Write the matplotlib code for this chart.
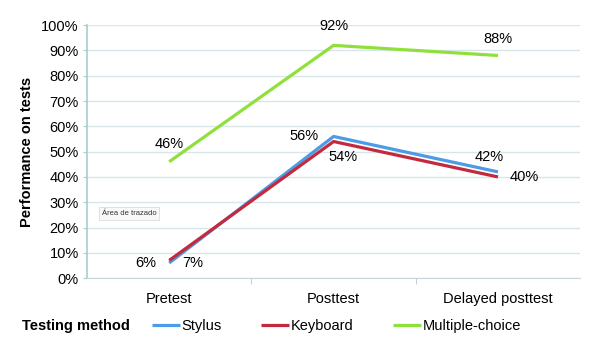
import matplotlib.pyplot as plt

plt.rcParams['font.family'] = ['Liberation Sans', 'DejaVu Sans']

phases = ['Pretest', 'Posttest', 'Delayed posttest']
stylus = [6, 56, 42]
keyboard = [7, 54, 40]
multiple_choice = [46, 92, 88]

# label offsets in points (dx, dy) for each series
stylus_offsets = [(-17, 0), (-21, 0), (-6, 11)]
keyboard_offsets = [(17, -2), (7, -11), (19, 0)]
mc_offsets = [(0, 13), (0, 14), (0, 12)]

FS = 10.5

fig = plt.figure(figsize=(6, 3.49), dpi=100)
ax = fig.add_axes([0.145, 0.203, 0.822, 0.725])

x = range(len(phases))
series = [
    ('Stylus', stylus, '#4c9be6', stylus_offsets),
    ('Keyboard', keyboard, '#c42a3e', keyboard_offsets),
    ('Multiple-choice', multiple_choice, '#90e03c', mc_offsets),
]
handles = []
for name, vals, color, offs in series:
    ln, = ax.plot(x, vals, color=color, lw=2.3, solid_capstyle='butt', label=name)
    handles.append(ln)
    for xi, v, (dx, dy) in zip(x, vals, offs):
        ax.annotate(f'{v}%', (xi, v), xytext=(dx, dy), textcoords='offset points',
                    ha='center', va='center', fontsize=FS)

ax.set_xlim(-0.5, 2.5)
ax.set_ylim(0, 100)
ax.set_yticks(range(0, 101, 10))
ax.set_yticklabels([f'{t}%' for t in range(0, 101, 10)], fontsize=FS)
ax.set_xticks(x)
ax.set_xticklabels(phases, fontsize=FS)
ax.set_xticks([0.5, 1.5], minor=True)
ax.tick_params(axis='x', which='major', length=0, pad=10)
ax.tick_params(axis='x', which='minor', length=4, color='#b8c8cc', direction='out')
ax.tick_params(axis='y', length=3, color='#a9cccf', pad=3)
ax.grid(axis='y', color='#d8e6ea', lw=1)
ax.set_axisbelow(True)
for s in ['top', 'right']:
    ax.spines[s].set_visible(False)
ax.spines['left'].set_color('#a9cccf')
ax.spines['left'].set_linewidth(1.2)
ax.spines['bottom'].set_color('#c8d6da')
ax.set_ylabel('Performance on tests', fontsize=FS, fontweight='bold', labelpad=5)

ax.text(0.03, 0.255, 'Área de trazado', transform=ax.transAxes, fontsize=5.5,
        color='#333333', va='center', ha='left',
        bbox=dict(boxstyle='square,pad=0.4', fc='#f8f8f8', ec='#dddddd', lw=0.6))

fig.text(0.037, 0.066, 'Testing method', fontsize=FS, fontweight='bold', va='center')
fig.legend(handles=handles, loc='center left', bbox_to_anchor=(0.253, 0.066), ncol=3,
           frameon=False, fontsize=FS, handlelength=1.9, handletextpad=0.1,
           columnspacing=2.75, borderpad=0, borderaxespad=0)

fig.savefig('out.png', dpi=100)
